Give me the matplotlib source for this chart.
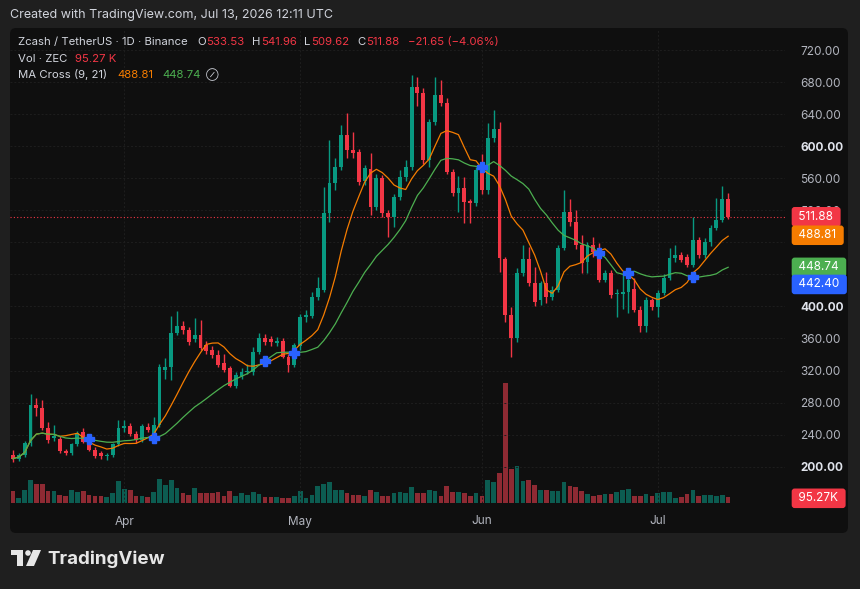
import matplotlib
matplotlib.use("Agg")
import matplotlib.pyplot as plt
import matplotlib.transforms as mtransforms
from matplotlib.patches import FancyBboxPatch, Rectangle, Circle, Polygon
import numpy as np
import pandas as pd

plt.rcParams["font.family"] = ["Inter", "DejaVu Sans"]

W, H = 860, 589

# --- daily ZEC/USDT candles ---
dates = pd.date_range("2026-03-13", "2026-07-13", freq="D")
opens = [215, 210, 214, 229, 277, 273, 248, 236, 235, 220,
         217, 228, 243, 231, 221, 217, 213, 214, 228, 248,
         251, 241, 233, 250, 240, 252, 321, 324, 367, 375,
         370, 359, 364, 352, 346, 339, 329, 323, 301, 313,
         318, 318, 343, 361, 359, 354, 357, 337, 327, 350,
         387, 388, 412, 420, 517, 554, 574, 614, 595, 593,
         556, 572, 524, 560, 517, 512, 537, 561, 574, 674,
         666, 583, 630, 664, 654, 568, 542, 548, 531, 529,
         570, 545, 610, 621, 459, 389, 361, 442, 459, 429,
         408, 429, 412, 421, 473, 518, 505, 477, 455, 477,
         473, 433, 442, 415, 416, 418, 422, 396, 375, 408,
         399, 417, 436, 460, 464, 462, 452, 483, 464, 480,
         498, 508, 533.53]
highs = [221, 217, 232, 291, 286, 283, 256, 252, 238, 222,
         230, 244, 248, 234, 224, 220, 217, 230, 258, 258,
         254, 244, 253, 255, 262, 328, 336, 388, 394, 382,
         374, 386, 383, 357, 350, 345, 340, 326, 318, 323,
         328, 349, 367, 365, 363, 362, 360, 340, 354, 390,
         395, 418, 437, 549, 608, 585, 626, 641, 618, 597,
         577, 591, 565, 564, 520, 540, 570, 583, 689, 686,
         672, 634, 686, 683, 660, 572, 563, 562, 534, 574,
         590, 629, 645, 630, 462, 399, 448, 477, 474, 449,
         432, 443, 426, 477, 545, 534, 520, 489, 481, 487,
         479, 446, 446, 422, 440, 437, 436, 400, 412, 411,
         421, 440, 473, 477, 468, 466, 512, 487, 485, 502,
         535, 550, 541.96]
lows = [206, 207, 212, 226, 263, 246, 230, 232, 217, 214,
        215, 226, 229, 219, 211, 210, 208, 212, 226, 243,
        238, 230, 231, 243, 234, 250, 310, 308, 364, 366,
        352, 356, 345, 341, 336, 324, 318, 299, 298, 310,
        316, 315, 340, 352, 350, 351, 335, 318, 325, 345,
        380, 385, 408, 418, 505, 545, 570, 585, 585, 552,
        552, 514, 520, 512, 487, 499, 533, 557, 570, 650,
        578, 574, 627, 650, 565, 538, 518, 504, 504, 525,
        540, 540, 605, 443, 380, 337, 356, 438, 425, 400,
        402, 404, 408, 418, 470, 500, 472, 442, 442, 462,
        430, 430, 410, 387, 397, 392, 393, 368, 368, 396,
        387, 414, 433, 456, 455, 449, 449, 460, 461, 476,
        495, 505, 509.62]
closes = [210, 214, 229, 277, 273, 248, 233, 238, 219, 217,
          228, 242, 231, 221, 213, 213, 214, 228, 248, 251,
          241, 233, 251, 246, 252, 324, 325, 367, 375, 370,
          356, 364, 348, 344, 339, 327, 321, 301, 315, 318,
          320, 343, 360, 356, 355, 357, 337, 327, 352, 387,
          389, 412, 423, 517, 554, 574, 614, 595, 591, 555,
          573, 524, 560, 517, 512, 537, 561, 574, 674, 666,
          583, 630, 664, 654, 568, 542, 548, 530, 529, 570,
          545, 610, 621, 460, 389, 361, 442, 459, 429, 405,
          429, 412, 421, 473, 518, 505, 477, 454, 477, 468,
          433, 442, 414, 417, 418, 433, 396, 375, 408, 399,
          417, 436, 460, 464, 458, 452, 483, 464, 480, 498,
          508, 533.53, 511.88]
volume_k = [192, 80, 208, 368, 304, 304, 192, 192, 128, 112,
            208, 176, 192, 128, 112, 112, 96, 160, 352, 224,
            208, 112, 112, 96, 176, 384, 288, 368, 240, 160,
            128, 240, 160, 160, 160, 176, 112, 192, 112, 160,
            128, 176, 144, 96, 96, 96, 80, 80, 112, 192,
            80, 128, 272, 304, 336, 208, 208, 160, 128, 128,
            112, 208, 176, 112, 112, 160, 176, 160, 256, 160,
            160, 208, 192, 112, 272, 176, 176, 160, 112, 160,
            112, 368, 336, 480, 1920, 544, 592, 352, 368, 288,
            208, 208, 192, 192, 336, 272, 256, 192, 144, 112,
            128, 144, 144, 176, 208, 224, 112, 112, 144, 112,
            160, 176, 176, 80, 96, 144, 208, 112, 128, 128,
            112, 128, 95.27]

month_ticks = ["2026-04-01", "2026-05-01", "2026-06-01", "2026-07-01"]
month_labels = ["Apr", "May", "Jun", "Jul"]
price_ticks = list(range(200, 721, 40))
hidden_ticks = [440, 480]   # sit under the price tags on the scale

ma_fast_last = 488.81
ma_slow_last = 448.74
last_cross = 442.40

GREEN = "#089981"
RED = "#f23645"
ORANGE = "#f57c00"
MA_GREEN = "#4caf50"
BLUE = "#2962ff"
GREY = "#d1d4dc"
AXIS_TXT = "#b2b5be"

fig = plt.figure(figsize=(W / 100, H / 100), dpi=100)
fig.patch.set_facecolor("#1f1f1f")
PX = mtransforms.Affine2D().scale(1 / W, -1 / H).translate(0, 1) + fig.transFigure

panel = FancyBboxPatch((10, 28), 838, 505, boxstyle="round,pad=0,rounding_size=6",
                       transform=PX, fc="#0f0f0f", ec="none", zorder=-10)
fig.add_artist(panel)

rect = [10 / W, 1 - 503 / H, 775 / W, 473 / H]
ax_v = fig.add_axes(rect)
ax = fig.add_axes(rect, sharex=ax_v)
for a in (ax_v, ax):
    a.set_facecolor("none")
    for s in a.spines.values():
        s.set_visible(False)

idx = np.arange(len(dates))
o = np.array(opens); h = np.array(highs); l = np.array(lows); c = np.array(closes)
up = c >= o
cols = np.where(up, GREEN, RED)

# volume
vcols = np.where(up, "#0c5c51", "#8e2a33")
ax_v.bar(idx, volume_k, width=0.8, color=vcols)
ax_v.set_ylim(0, 473 * 16)
ax_v.set_yticks([])
ax_v.tick_params(axis="x", length=0, labelbottom=False)

# candles
ax.vlines(idx, l, h, color=cols, lw=1, zorder=3)
body = np.maximum(np.abs(c - o), 0.8)
ax.bar(idx, body, bottom=np.minimum(o, c), width=0.66, color=cols, zorder=4)

# MA cross (9, 21)
close_s = pd.Series(closes)
ma_fast = close_s.rolling(9, min_periods=1).mean().to_numpy()
ma_slow = close_s.rolling(21, min_periods=1).mean().to_numpy()
ax.plot(idx, ma_fast, color=ORANGE, lw=0.9, zorder=5)
ax.plot(idx, ma_slow, color=MA_GREEN, lw=0.9, zorder=5)
diff = np.sign(ma_fast - ma_slow)
cross = np.where(diff[1:] * diff[:-1] < 0)[0] + 1
ax.plot(cross, ma_slow[cross], "P", color=BLUE, ms=7, mec=BLUE, zorder=6)

ax.axhline(closes[-1], color=RED, lw=0.8, ls=(0, (1, 2)), zorder=2)

ax.set_xlim(-0.5, 131.7)
ax.set_ylim(154.66, 744.96)
ax.grid(color="#1e1e1e", lw=0.7, ls=(0, (2, 2)))
ax.set_axisbelow(True)

ax.yaxis.tick_right()
ax.set_yticks(price_ticks)
ax.set_yticklabels(["" if p in hidden_ticks else f"{p:.2f}" for p in price_ticks])
ax.tick_params(axis="y", length=0, pad=11, labelsize=8.5, labelcolor=AXIS_TXT)
for t in ax.get_yticklabels():
    if t.get_text() in ("600.00", "400.00", "200.00"):
        t.set_color("#e0e3eb"); t.set_fontweight("bold")

mpos = [dates.get_loc(pd.Timestamp(d)) for d in month_ticks]
ax.set_xticks(mpos)
ax.set_xticklabels(month_labels)
ax.tick_params(axis="x", length=0, pad=9, labelsize=8.5, labelcolor=AXIS_TXT)


def price_tag(a, value, text, color, dy=0):
    tr = mtransforms.blended_transform_factory(a.transAxes, a.transData)
    tr = tr + mtransforms.ScaledTranslation(0, -dy / 100, fig.dpi_scale_trans)
    a.text(1.0135, value, text, transform=tr, ha="left", va="center",
           fontsize=8.5, color="white", clip_on=False, zorder=10,
           bbox=dict(boxstyle="round,pad=0.32,rounding_size=0.25", fc=color, ec="none"))


price_tag(ax, closes[-1], f" {closes[-1]:.2f} ", RED)
price_tag(ax, ma_fast_last, f" {ma_fast_last:.2f} ", ORANGE)
price_tag(ax, ma_slow_last, f" {ma_slow_last:.2f} ", MA_GREEN)
price_tag(ax, last_cross, f" {last_cross:.2f} ", BLUE, dy=12)
price_tag(ax_v, volume_k[-1] - 20, f" {volume_k[-1]:.2f}K ", RED)

# header + legend
fig.text(10, 15, "Created with TradingView.com, Jul 13, 2026 12:11 UTC", transform=PX,
         fontsize=9, color=GREY, va="center")
chg = closes[-1] - closes[-2]
pct = chg / closes[-2] * 100
fs = 8.2
line1 = [("Zcash / TetherUS · 1D · Binance", 18, GREY),
         ("O", 197, GREY), (f"{opens[-1]:.2f}", 206, RED),
         ("H", 252, GREY), (f"{highs[-1]:.2f}", 261, RED),
         ("L", 304, GREY), (f"{lows[-1]:.2f}", 311, RED),
         ("C", 357, GREY), (f"{closes[-1]:.2f}", 366, RED),
         (f"−{abs(chg):.2f} (−{abs(pct):.2f}%)", 408, RED)]
for s, x, col in line1:
    fig.text(x, 42, s, transform=PX, fontsize=fs, color=col, va="center")
for s, x, col in [("Vol · ZEC", 18, GREY), (f"{volume_k[-1]:.2f} K", 75, RED)]:
    fig.text(x, 59, s, transform=PX, fontsize=fs, color=col, va="center")
for s, x, col in [("MA Cross (9, 21)", 18, GREY), (f"{ma_fast_last:.2f}", 117, ORANGE),
                  (f"{ma_slow_last:.2f}", 162, MA_GREEN)]:
    fig.text(x, 75, s, transform=PX, fontsize=fs, color=col, va="center")
fig.text(206, 75, "⊘", transform=PX, fontsize=6.5, color=GREY, va="center")

# TradingView logo
logo = "#e6e6e6"
fig.add_artist(Rectangle((11, 550), 12, 5, transform=PX, fc=logo, ec="none"))
fig.add_artist(Rectangle((17, 550), 6, 16, transform=PX, fc=logo, ec="none"))
fig.add_artist(Circle((28, 553), 2.8, transform=PX, fc=logo, ec="none"))
fig.add_artist(Polygon([(33, 550), (41, 550), (34, 566), (26, 566)], closed=True,
                       transform=PX, fc=logo, ec="none"))
fig.text(47, 559, "TradingView", transform=PX, fontsize=13.5, fontweight="bold",
         color=logo, va="center")

fig.savefig("out.png", dpi=100, facecolor=fig.get_facecolor())
